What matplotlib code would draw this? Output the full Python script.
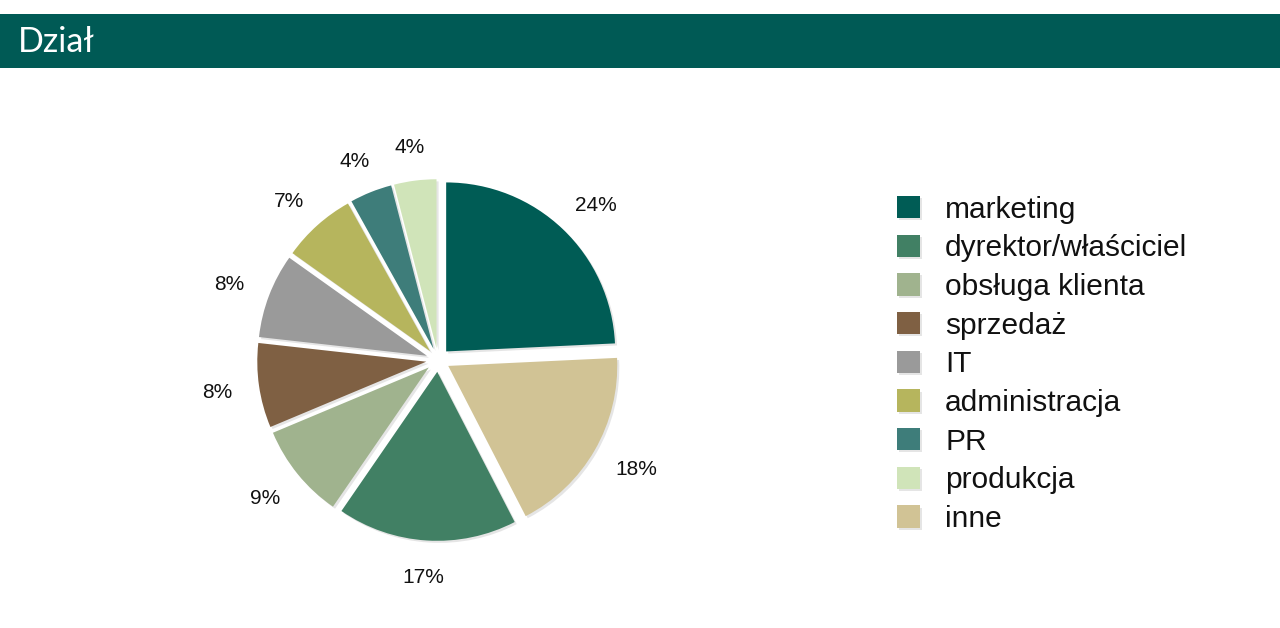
import matplotlib
matplotlib.use("Agg")
import numpy as np
import matplotlib.pyplot as plt
from matplotlib.patches import Patch, Rectangle
import matplotlib.patheffects as pe
from matplotlib.transforms import ScaledTranslation

# Data (pie order, clockwise from top)
pie_categories = ["marketing", "inne", "dyrektor/właściciel", "obsługa klienta",
                  "sprzedaż", "IT", "administracja", "PR", "produkcja"]
pie_values = [24, 18, 17, 9, 8, 8, 7, 4, 4]

# Legend order
legend_categories = ["marketing", "dyrektor/właściciel", "obsługa klienta", "sprzedaż",
                     "IT", "administracja", "PR", "produkcja", "inne"]

colors = {
    "marketing": "#005C55",
    "dyrektor/właściciel": "#418064",
    "obsługa klienta": "#A0B38E",
    "sprzedaż": "#7F6043",
    "IT": "#9A9A9A",
    "administracja": "#B6B55D",
    "PR": "#3E7D7A",
    "produkcja": "#D0E4B9",
    "inne": "#D1C395",
}

title = "Dział"

W, H = 1280, 628
fig = plt.figure(figsize=(W / 100, H / 100), dpi=100)
fig.patch.set_facecolor("white")

# Title bar
bar = Rectangle((0, 1 - 68 / H), 1, 54 / H, transform=fig.transFigure,
                facecolor="#005A55", edgecolor="none")
fig.add_artist(bar)
fig.text(18 / W, 1 - 42 / H, title, color="white", fontsize=24.5,
         family=["Lato", "DejaVu Sans"], fontweight="normal", va="center", ha="left")

# Pie axes
cx, cy, r = 438, 360, 169
half = 1.35 * r
ax = fig.add_axes([(cx - half) / W, (H - cy - half) / H, 2 * half / W, 2 * half / H])
ax.set_aspect("equal")
ax.axis("off")

shadow = [pe.SimplePatchShadow(offset=(1.5, -1.5), shadow_rgbFace="#999999", alpha=0.25),
          pe.Normal()]

wedges, texts, autotexts = ax.pie(
    pie_values,
    colors=[colors[c] for c in pie_categories],
    startangle=90,
    counterclock=False,
    explode=[0.07] * len(pie_values),
    autopct="%.0f%%",
    pctdistance=1.16,
    radius=1,
    wedgeprops=dict(linewidth=0),
    textprops=dict(fontsize=15, family=["Liberation Sans", "DejaVu Sans"], color="#111111"),
)
ax.set_xlim(-1.35, 1.35)
ax.set_ylim(-1.35, 1.35)
for w in wedges:
    w.set_path_effects(shadow)

# Outside-end label placement: nearest edge of label sits at fixed distance
renderer = fig.canvas.get_renderer()
for w, t in zip(wedges, autotexts):
    theta = np.deg2rad((w.theta1 + w.theta2) / 2)
    bb = t.get_window_extent(renderer)
    hw = bb.width / 2 / fig.dpi
    hh = bb.height / 2 / fig.dpi * 0.85
    t.set_transform(ax.transData + ScaledTranslation(hw * np.cos(theta),
                                                     hh * np.sin(theta) - 0.02,
                                                     fig.dpi_scale_trans))

handles = [Patch(facecolor=colors[c], edgecolor="none", path_effects=shadow)
           for c in legend_categories]
leg = fig.legend(handles, legend_categories, loc="upper left",
                 bbox_to_anchor=(897 / W, 1 - 195.5 / H),
                 frameon=False, borderpad=0, borderaxespad=0,
                 handlelength=0.77, handleheight=0.77, handletextpad=0.84,
                 labelspacing=0.358,
                 prop=dict(family=["Liberation Sans", "DejaVu Sans"], size=21.5))
for t in leg.get_texts():
    t.set_color("#111111")

fig.savefig("out.png", dpi=100, facecolor="white")
